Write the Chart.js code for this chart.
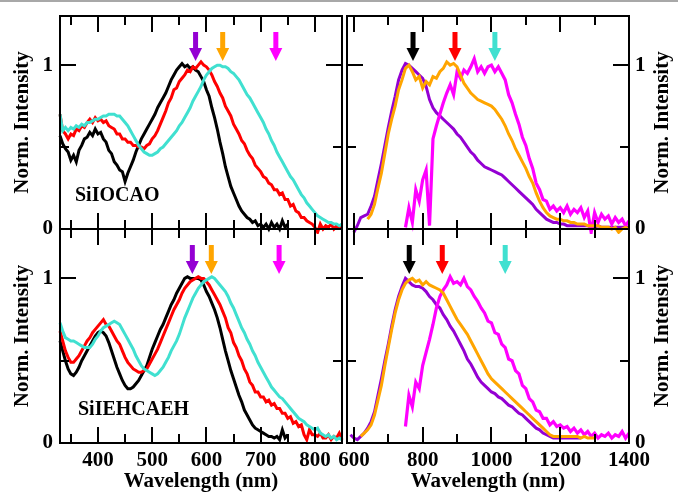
<!DOCTYPE html>
<html>
<head>
<meta charset="utf-8">
<title>Norm. Intensity vs Wavelength</title>
<script src="https://cdn.jsdelivr.net/npm/chart.js@4.4.0/dist/chart.umd.min.js"></script>
<style>
  html, body { margin: 0; padding: 0; background: #fff; }
  #stage { position: relative; width: 678px; height: 494px; overflow: hidden; }
  #stage canvas { position: absolute; left: 0; top: 0; }
  #rule { position: absolute; left: 0; top: 0; width: 678px; height: 2px; background: #a8a8a8; }
</style>
</head>
<body>
<div id="stage">
  <div id="rule"></div>
  <canvas id="absTop" width="678" height="494"></canvas>
  <canvas id="emTop" width="678" height="494"></canvas>
  <canvas id="absBottom" width="678" height="494"></canvas>
  <canvas id="emBottom" width="678" height="494"></canvas>
</div>
<script>
// ---- wavelength grids (nm) ----
const absWavelength = [
  330, 335, 340, 345, 350, 355, 360, 365, 370, 375,
  380, 385, 390, 395, 400, 405, 410, 415, 420, 425,
  430, 435, 440, 445, 450, 455, 460, 465, 470, 475,
  480, 485, 490, 495, 500, 505, 510, 515, 520, 525,
  530, 535, 540, 545, 550, 555, 560, 565, 570, 575,
  580, 585, 590, 595, 600, 605, 610, 615, 620, 625,
  630, 635, 640, 645, 650, 655, 660, 665, 670, 675,
  680, 685, 690, 695, 700, 705, 710, 715, 720, 725,
  730, 735, 740, 745, 750, 755, 760, 765, 770, 775,
  780, 785, 790, 795, 800, 805, 810, 815, 820, 825,
  830, 835, 840, 845, 850
];
const emWavelength = [
  580, 590, 600, 610, 620, 630, 640, 650, 660, 670,
  680, 690, 700, 710, 720, 730, 740, 750, 760, 770,
  780, 790, 800, 810, 820, 830, 840, 850, 860, 870,
  880, 890, 900, 910, 920, 930, 940, 950, 960, 970,
  980, 990, 1000, 1010, 1020, 1030, 1040, 1050, 1060, 1070,
  1080, 1090, 1100, 1110, 1120, 1130, 1140, 1150, 1160, 1170,
  1180, 1190, 1200, 1210, 1220, 1230, 1240, 1250, 1260, 1270,
  1280, 1290, 1300, 1310, 1320, 1330, 1340, 1350, 1360, 1370,
  1380, 1390, 1400
];

// ---- SiIOCAO, left spectra ----
const ocaoAbsBlack = [
  0.57, 0.52, 0.49, 0.47, 0.42, 0.45, 0.41, 0.48, 0.51, 0.55,
  0.56, 0.59, 0.57, 0.61, 0.58, 0.59, 0.55, 0.53, 0.48, 0.46,
  0.41, 0.39, 0.36, 0.35, 0.29, 0.34, 0.38, 0.42, 0.47, 0.51,
  0.55, 0.58, 0.61, 0.64, 0.67, 0.70, 0.74, 0.77, 0.80, 0.83,
  0.87, 0.91, 0.94, 0.97, 0.99, 1.01, 0.99, 1.00, 0.98, 0.99,
  0.97, 0.96, 0.93, 0.90, 0.85, 0.81, 0.74, 0.68, 0.61, 0.53,
  0.46, 0.38, 0.32, 0.26, 0.22, 0.18, 0.14, 0.11, 0.09, 0.07,
  0.06, 0.04, 0.05, 0.02, 0.03, 0.01, 0.03, 0.00, 0.04, 0.01,
  0.03, 0.00, 0.05, 0.01, 0.03, null, null, null, null, null,
  null, null, null, null, null, null, null, null, null, null,
  null, null, null, null, null
];
const ocaoAbsRed = [
  0.70, 0.60, 0.58, 0.55, 0.58, 0.57, 0.61, 0.60, 0.63, 0.62,
  0.65, 0.67, 0.65, 0.68, 0.66, 0.67, 0.65, 0.66, 0.63, 0.62,
  0.61, 0.58, 0.58, 0.55, 0.55, 0.53, 0.53, 0.51, 0.51, 0.50,
  0.50, 0.49, 0.51, 0.52, 0.55, 0.57, 0.60, 0.64, 0.68, 0.72,
  0.77, 0.80, 0.85, 0.86, 0.90, 0.92, 0.94, 0.97, 0.96, 0.99,
  0.98, 1.00, 1.02, 1.00, 0.99, 0.97, 0.94, 0.90, 0.87, 0.83,
  0.80, 0.75, 0.72, 0.69, 0.64, 0.61, 0.58, 0.54, 0.52, 0.48,
  0.45, 0.43, 0.39, 0.37, 0.35, 0.32, 0.31, 0.28, 0.27, 0.24,
  0.24, 0.21, 0.22, 0.18, 0.18, 0.14, 0.15, 0.11, 0.10, 0.07,
  0.07, 0.05, 0.04, 0.03, 0.01, -0.02, 0.03, 0.00, 0.02, 0.01,
  0.03, 0.00, 0.02, 0.01, 0.02
];
const ocaoAbsCyan = [
  0.70, 0.60, 0.62, 0.60, 0.62, 0.61, 0.63, 0.62, 0.64, 0.63,
  0.65, 0.65, 0.66, 0.67, 0.67, 0.68, 0.69, 0.69, 0.70, 0.70,
  0.70, 0.69, 0.69, 0.67, 0.65, 0.63, 0.60, 0.57, 0.54, 0.51,
  0.49, 0.47, 0.46, 0.45, 0.45, 0.46, 0.47, 0.49, 0.50, 0.52,
  0.54, 0.56, 0.58, 0.60, 0.63, 0.65, 0.68, 0.71, 0.74, 0.78,
  0.81, 0.84, 0.87, 0.91, 0.94, 0.96, 0.98, 0.99, 1.00, 1.00,
  0.99, 0.99, 0.98, 0.96, 0.95, 0.93, 0.91, 0.88, 0.85, 0.82,
  0.80, 0.77, 0.74, 0.71, 0.68, 0.65, 0.61, 0.58, 0.54, 0.51,
  0.47, 0.44, 0.41, 0.38, 0.35, 0.32, 0.30, 0.27, 0.24, 0.21,
  0.19, 0.16, 0.14, 0.12, 0.10, 0.08, 0.07, 0.06, 0.05, 0.04,
  0.04, 0.03, 0.03, 0.02, 0.03
];

// ---- SiIOCAO, right spectra ----
const ocaoEmPurple = [
  null, null, -0.02, 0.02, 0.07, 0.08, 0.09, 0.14, 0.20, 0.30,
  0.40, 0.51, 0.62, 0.72, 0.81, 0.91, 0.97, 1.01, 1.00, 0.98,
  0.96, 0.94, 0.92, 0.87, 0.79, 0.74, 0.71, 0.69, 0.67, 0.65,
  0.63, 0.61, 0.58, 0.56, 0.53, 0.50, 0.47, 0.45, 0.42, 0.40,
  0.38, 0.37, 0.36, 0.35, 0.34, 0.33, 0.31, 0.29, 0.27, 0.25,
  0.23, 0.21, 0.19, 0.17, 0.15, 0.12, 0.10, 0.08, 0.06, 0.05,
  0.04, 0.04, 0.03, 0.03, 0.02, 0.02, 0.02, 0.02, 0.02, 0.02,
  0.02, 0.01, 0.01, 0.02, 0.01, 0.01, 0.01, 0.01, 0.01, 0.01,
  0.01, 0.01, 0.01
];
const ocaoEmOrange = [
  null, null, null, null, null, null, 0.06, 0.09, 0.15, 0.25,
  0.34, 0.46, 0.58, 0.67, 0.75, 0.85, 0.91, 0.98, 1.00, 0.96,
  0.91, 0.93, 0.86, 0.90, 0.88, 0.93, 0.92, 0.96, 0.98, 1.02,
  1.00, 1.01, 0.99, 0.94, 0.89, 0.86, 0.83, 0.81, 0.79, 0.78,
  0.77, 0.76, 0.75, 0.73, 0.70, 0.67, 0.63, 0.58, 0.54, 0.49,
  0.45, 0.41, 0.37, 0.32, 0.28, 0.22, 0.17, 0.13, 0.10, 0.08,
  0.07, 0.06, 0.06, 0.05, 0.05, 0.04, 0.04, 0.03, 0.03, 0.03,
  0.02, 0.02, 0.02, 0.02, 0.01, 0.01, 0.01, 0.00, 0.01, -0.02,
  0.00, 0.01, 0.00
];
const ocaoEmMagenta = [
  null, null, null, null, null, null, null, null, null, null,
  null, null, null, null, null, null, null, 0.01, 0.13, 0.04,
  0.24, 0.17, 0.30, 0.36, 0.02, 0.55, 0.63, 0.70, 0.77, 0.83,
  0.88, 0.82, 0.96, 0.92, 0.97, 0.95, 0.99, 1.04, 0.96, 0.99,
  0.95, 0.99, 1.00, 0.96, 0.99, 0.95, 0.91, 0.82, 0.77, 0.70,
  0.64, 0.56, 0.51, 0.43, 0.37, 0.28, 0.24, 0.18, 0.17, 0.12,
  0.14, 0.11, 0.13, 0.10, 0.14, 0.09, 0.12, 0.10, 0.13, 0.07,
  0.11, -0.02, 0.10, 0.04, 0.09, 0.06, 0.08, 0.03, 0.07, 0.04,
  0.06, 0.02, 0.05
];

// ---- SiIEHCAEH, left spectra ----
const ehAbsBlack = [
  0.62, 0.56, 0.50, 0.45, 0.42, 0.41, 0.43, 0.46, 0.50, 0.53,
  0.56, 0.59, 0.62, 0.65, 0.67, 0.68, 0.67, 0.65, 0.61, 0.56,
  0.51, 0.46, 0.42, 0.38, 0.35, 0.33, 0.33, 0.34, 0.36, 0.38,
  0.41, 0.44, 0.47, 0.52, 0.57, 0.61, 0.65, 0.69, 0.72, 0.76,
  0.80, 0.84, 0.87, 0.91, 0.94, 0.97, 1.00, 1.01, 1.00, 1.00,
  1.00, 1.00, 0.99, 0.96, 0.92, 0.89, 0.85, 0.81, 0.76, 0.70,
  0.63, 0.56, 0.50, 0.44, 0.39, 0.34, 0.29, 0.25, 0.20, 0.17,
  0.14, 0.11, 0.09, 0.08, 0.07, 0.06, 0.05, 0.04, 0.04, 0.03,
  0.04, 0.02, 0.08, 0.03, 0.05, null, null, null, null, null,
  null, null, null, null, null, null, null, null, null, null,
  null, null, null, null, null
];
const ehAbsRed = [
  0.68, 0.62, 0.56, 0.52, 0.49, 0.49, 0.51, 0.53, 0.56, 0.59,
  0.62, 0.64, 0.67, 0.69, 0.71, 0.73, 0.75, 0.72, 0.71, 0.68,
  0.65, 0.62, 0.60, 0.56, 0.52, 0.49, 0.47, 0.45, 0.44, 0.43,
  0.43, 0.44, 0.45, 0.48, 0.51, 0.54, 0.57, 0.61, 0.65, 0.69,
  0.73, 0.77, 0.81, 0.84, 0.87, 0.91, 0.94, 0.96, 0.98, 0.99,
  1.00, 1.01, 1.00, 1.00, 0.98, 0.96, 0.93, 0.90, 0.87, 0.84,
  0.80, 0.76, 0.70, 0.67, 0.61, 0.58, 0.53, 0.50, 0.45, 0.42,
  0.37, 0.35, 0.31, 0.31, 0.28, 0.28, 0.25, 0.26, 0.23, 0.24,
  0.21, 0.21, 0.18, 0.18, 0.15, 0.16, 0.12, 0.13, 0.10, 0.11,
  0.05, 0.02, 0.08, 0.05, 0.05, 0.04, 0.06, 0.03, 0.03, 0.05,
  0.02, 0.04, 0.03, 0.06, 0.02
];
const ehAbsCyan = [
  0.73, 0.68, 0.64, 0.63, 0.62, 0.62, 0.61, 0.60, 0.59, 0.58,
  0.58, 0.58, 0.60, 0.63, 0.65, 0.68, 0.70, 0.71, 0.72, 0.73,
  0.74, 0.73, 0.72, 0.69, 0.66, 0.63, 0.60, 0.57, 0.53, 0.50,
  0.47, 0.45, 0.44, 0.43, 0.42, 0.41, 0.42, 0.44, 0.46, 0.49,
  0.52, 0.56, 0.59, 0.62, 0.66, 0.71, 0.76, 0.80, 0.84, 0.88,
  0.91, 0.94, 0.96, 0.98, 0.99, 1.00, 1.01, 1.00, 0.98, 0.96,
  0.94, 0.92, 0.89, 0.85, 0.82, 0.78, 0.74, 0.70, 0.67, 0.63,
  0.60, 0.56, 0.53, 0.49, 0.46, 0.43, 0.40, 0.37, 0.34, 0.32,
  0.30, 0.28, 0.27, 0.25, 0.23, 0.21, 0.19, 0.17, 0.15, 0.14,
  0.13, 0.11, 0.10, 0.09, 0.08, 0.09, 0.06, 0.05, 0.04, 0.05,
  0.03, 0.04, 0.02, 0.03, 0.02
];

// ---- SiIEHCAEH, right spectra ----
const ehEmPurple = [
  null, 0.05, 0.03, 0.02, 0.04, 0.06, 0.09, 0.13, 0.19, 0.29,
  0.39, 0.50, 0.60, 0.71, 0.81, 0.89, 0.95, 1.00, 0.98, 0.96,
  0.95, 0.95, 0.94, 0.92, 0.89, 0.87, 0.84, 0.82, 0.78, 0.75,
  0.71, 0.68, 0.64, 0.60, 0.56, 0.51, 0.48, 0.44, 0.40, 0.37,
  0.35, 0.33, 0.31, 0.30, 0.28, 0.27, 0.25, 0.23, 0.22, 0.20,
  0.18, 0.17, 0.15, 0.13, 0.11, 0.09, 0.08, 0.06, 0.05, 0.04,
  0.03, 0.03, 0.03, 0.03, 0.03, 0.03, 0.03, 0.03, 0.03, null,
  null, null, null, null, null, null, null, null, null, null,
  null, null, null
];
const ehEmOrange = [
  null, null, null, null, 0.04, 0.06, 0.08, 0.11, 0.17, 0.26,
  0.35, 0.47, 0.58, 0.69, 0.79, 0.87, 0.93, 0.97, 0.99, 1.00,
  0.98, 0.99, 0.96, 0.98, 0.96, 0.95, 0.94, 0.93, 0.91, 0.87,
  0.83, 0.79, 0.75, 0.72, 0.69, 0.66, 0.62, 0.58, 0.54, 0.50,
  0.46, 0.42, 0.39, 0.37, 0.35, 0.33, 0.31, 0.29, 0.27, 0.25,
  0.23, 0.21, 0.19, 0.17, 0.15, 0.13, 0.11, 0.09, 0.07, 0.05,
  0.04, 0.04, 0.04, 0.04, 0.04, 0.04, 0.04, 0.04, 0.03, 0.04,
  0.03, 0.03, 0.03, null, null, null, null, null, null, null,
  null, null, null
];
const ehEmMagenta = [
  null, null, null, null, null, null, null, null, null, null,
  null, null, null, null, null, null, null, 0.10, 0.29, 0.22,
  0.37, 0.33, 0.47, 0.55, 0.63, 0.72, 0.82, 0.89, 0.93, 0.96,
  1.01, 0.97, 0.98, 0.96, 1.00, 0.95, 0.93, 0.89, 0.86, 0.82,
  0.79, 0.74, 0.73, 0.67, 0.66, 0.60, 0.58, 0.51, 0.50, 0.44,
  0.42, 0.35, 0.33, 0.27, 0.25, 0.20, 0.19, 0.15, 0.15, 0.11,
  0.13, 0.10, 0.11, 0.09, 0.10, 0.07, 0.09, 0.06, 0.08, 0.05,
  0.07, 0.04, 0.06, 0.03, 0.05, 0.04, 0.06, 0.03, 0.05, 0.04,
  0.07, 0.03, 0.06
];

// ---- axis ticks ----
const absMajorTicks = [400, 500, 600, 700, 800];
const absMinorTicks = [350, 450, 550, 650, 750];
const emMajorTicks = [600, 800, 1000, 1200, 1400];
const emMinorTicks = [700, 900, 1100, 1300];
const intensityMajorTicks = [0, 1];
const intensityMinorTicks = [0.5];

// ---- peak markers (nm) ----
const ocaoAbsMarkers = [580, 630, 728];
const ocaoEmMarkers = [772, 894, 1010];
const ehAbsMarkers = [574, 609, 734];
const ehEmMarkers = [761, 857, 1040];

const COLORS = {
  black: '#000000', red: '#ff0000', cyan: '#40e0d0',
  purple: '#9400d3', orange: '#ffa500', magenta: '#ff00ff'
};
const SERIF = '"Liberation Serif", "Times New Roman", serif';
const axisFont = { family: SERIF, size: 21, weight: 'bold' };

// frame, inward ticks, peak arrows and panel captions
const panelDecor = {
  id: 'panelDecor',
  afterDatasetsDraw(chart, _args, o) {
    const ctx = chart.ctx;
    const a = chart.chartArea;
    const xs = chart.scales.x, ys = chart.scales.y;
    ctx.save();
    ctx.strokeStyle = '#000';
    ctx.lineWidth = 2;
    const seg = (x1, y1, x2, y2) => { ctx.beginPath(); ctx.moveTo(x1, y1); ctx.lineTo(x2, y2); ctx.stroke(); };
    for (const [vals, len] of [[o.xMajor, o.majorLen], [o.xMinor, o.minorLen]]) {
      for (const v of vals) {
        if (v <= xs.min || v >= xs.max) continue;
        const p = Math.round(xs.getPixelForValue(v));
        seg(p, a.bottom, p, a.bottom - len);
        seg(p, a.top, p, a.top + len);
      }
    }
    for (const [vals, len] of [[o.yMajor, o.majorLen], [o.yMinor, o.minorLen]]) {
      for (const v of vals) {
        if (v <= ys.min || v >= ys.max) continue;
        const p = Math.round(ys.getPixelForValue(v));
        seg(a.left, p, a.left + len, p);
        seg(a.right, p, a.right - len, p);
      }
    }
    ctx.strokeRect(a.left, a.top, a.right - a.left, a.bottom - a.top);

    o.markers.forEach((m, i) => {
      const p = xs.getPixelForValue(m);
      ctx.fillStyle = o.markerColors[i];
      ctx.fillRect(p - 2.5, a.top + 16, 5, 17);
      ctx.beginPath();
      ctx.moveTo(p - 6.5, a.top + 32);
      ctx.lineTo(p + 6.5, a.top + 32);
      ctx.lineTo(p, a.top + 45);
      ctx.closePath();
      ctx.fill();
    });

    ctx.fillStyle = '#000';
    if (o.caption) {
      ctx.font = `bold 20px ${SERIF}`;
      ctx.textAlign = 'left';
      ctx.textBaseline = 'middle';
      ctx.fillText(o.caption, a.left + o.captionDx, a.bottom - o.captionDy);
    }
    if (o.sideTitle) {
      ctx.font = `bold 21px ${SERIF}`;
      ctx.textAlign = 'center';
      ctx.textBaseline = 'middle';
      ctx.translate(o.sideTitleX, (a.top + a.bottom) / 2);
      ctx.rotate(-Math.PI / 2);
      ctx.fillText(o.sideTitle, 0, 0);
    }
    ctx.restore();
  }
};

function pointsOf(grid, values) {
  return values.map((v, i) => ({ x: grid[i], y: v }));
}

function makePanel(id, p) {
  // the first series in the list is painted on top
  const datasets = p.series.map(s => ({
    data: pointsOf(p.grid, s.values),
    borderColor: s.color,
    borderWidth: s.width || 3,
    pointRadius: 0,
    fill: false,
    tension: 0,
    spanGaps: false,
    clip: 5
  }));
  const yRight = p.ySide === 'right';
  return new Chart(document.getElementById(id), {
    type: 'line',
    data: { datasets },
    plugins: [panelDecor],
    options: {
      responsive: false,
      animation: false,
      events: [],
      layout: { padding: p.padding },
      plugins: {
        legend: { display: false },
        tooltip: { enabled: false },
        panelDecor: {
          xMajor: p.xMajor, xMinor: p.xMinor,
          yMajor: intensityMajorTicks, yMinor: intensityMinorTicks,
          majorLen: 16, minorLen: 9,
          markers: p.markers, markerColors: p.markerColors,
          caption: p.caption, captionDx: p.captionDx, captionDy: 33,
          sideTitle: yRight ? 'Norm. Intensity' : null, sideTitleX: 663
        }
      },
      scales: {
        x: {
          type: 'linear',
          min: p.xMin, max: p.xMax,
          grid: { display: false, drawTicks: false },
          border: { display: false },
          ticks: {
            display: p.showX, font: axisFont, color: '#000',
            padding: 5, autoSkip: false, maxRotation: 0, minRotation: 0,
            callback: v => String(v)
          },
          title: {
            display: p.showX, text: 'Wavelength (nm)', font: axisFont,
            color: '#000', padding: { top: 0, bottom: 0 }
          },
          afterBuildTicks: s => { s.ticks = p.xMajor.map(v => ({ value: v })); },
          afterFit: s => {
            s.height = p.showX ? 51 : 0;
            s.paddingLeft = 0; s.paddingRight = 0;
          }
        },
        y: {
          type: 'linear',
          position: yRight ? 'right' : 'left',
          min: 0, max: 1.3,
          grid: { display: false, drawTicks: false },
          border: { display: false },
          ticks: { font: axisFont, color: '#000', padding: yRight ? 6 : 7, callback: v => String(v) },
          title: {
            display: !yRight, text: 'Norm. Intensity', font: axisFont,
            color: '#000', padding: { top: 10, bottom: 0 }
          },
          afterBuildTicks: s => { s.ticks = intensityMajorTicks.map(v => ({ value: v })); },
          afterFit: s => {
            s.width = p.yWidth;
            s.paddingTop = 0; s.paddingBottom = 0;
          }
        }
      }
    }
  });
}

const absSeries = (k, r, c) => [
  { values: c, color: COLORS.cyan },
  { values: r, color: COLORS.red },
  { values: k, color: COLORS.black }
];
const emSeries = (pu, ma, or) => [
  { values: or, color: COLORS.orange },
  { values: ma, color: COLORS.magenta, width: 3.2 },
  { values: pu, color: COLORS.purple }
];
const absMarkerColors = [COLORS.purple, COLORS.orange, COLORS.magenta];
const emMarkerColors = [COLORS.black, COLORS.red, COLORS.cyan];

makePanel('absTop', {
  grid: absWavelength, series: absSeries(ocaoAbsBlack, ocaoAbsRed, ocaoAbsCyan),
  xMin: 330, xMax: 850, xMajor: absMajorTicks, xMinor: absMinorTicks,
  padding: { left: 0, top: 16, right: 336, bottom: 265 },
  ySide: 'left', yWidth: 60, showX: false,
  markers: ocaoAbsMarkers, markerColors: absMarkerColors,
  caption: 'SiIOCAO', captionDx: 15
});
makePanel('emTop', {
  grid: emWavelength, series: emSeries(ocaoEmPurple, ocaoEmMagenta, ocaoEmOrange),
  xMin: 580, xMax: 1400, xMajor: emMajorTicks, xMinor: emMinorTicks,
  padding: { left: 347, top: 16, right: 0, bottom: 265 },
  ySide: 'right', yWidth: 49, showX: false,
  markers: ocaoEmMarkers, markerColors: emMarkerColors
});
makePanel('absBottom', {
  grid: absWavelength, series: absSeries(ehAbsBlack, ehAbsRed, ehAbsCyan),
  xMin: 330, xMax: 850, xMajor: absMajorTicks, xMinor: absMinorTicks,
  padding: { left: 0, top: 229, right: 336, bottom: 0 },
  ySide: 'left', yWidth: 60, showX: true,
  markers: ehAbsMarkers, markerColors: absMarkerColors,
  caption: 'SiIEHCAEH', captionDx: 18
});
makePanel('emBottom', {
  grid: emWavelength, series: emSeries(ehEmPurple, ehEmMagenta, ehEmOrange),
  xMin: 580, xMax: 1400, xMajor: emMajorTicks, xMinor: emMinorTicks,
  padding: { left: 347, top: 229, right: 0, bottom: 0 },
  ySide: 'right', yWidth: 49, showX: true,
  markers: ehEmMarkers, markerColors: emMarkerColors
});
</script>
</body>
</html>
